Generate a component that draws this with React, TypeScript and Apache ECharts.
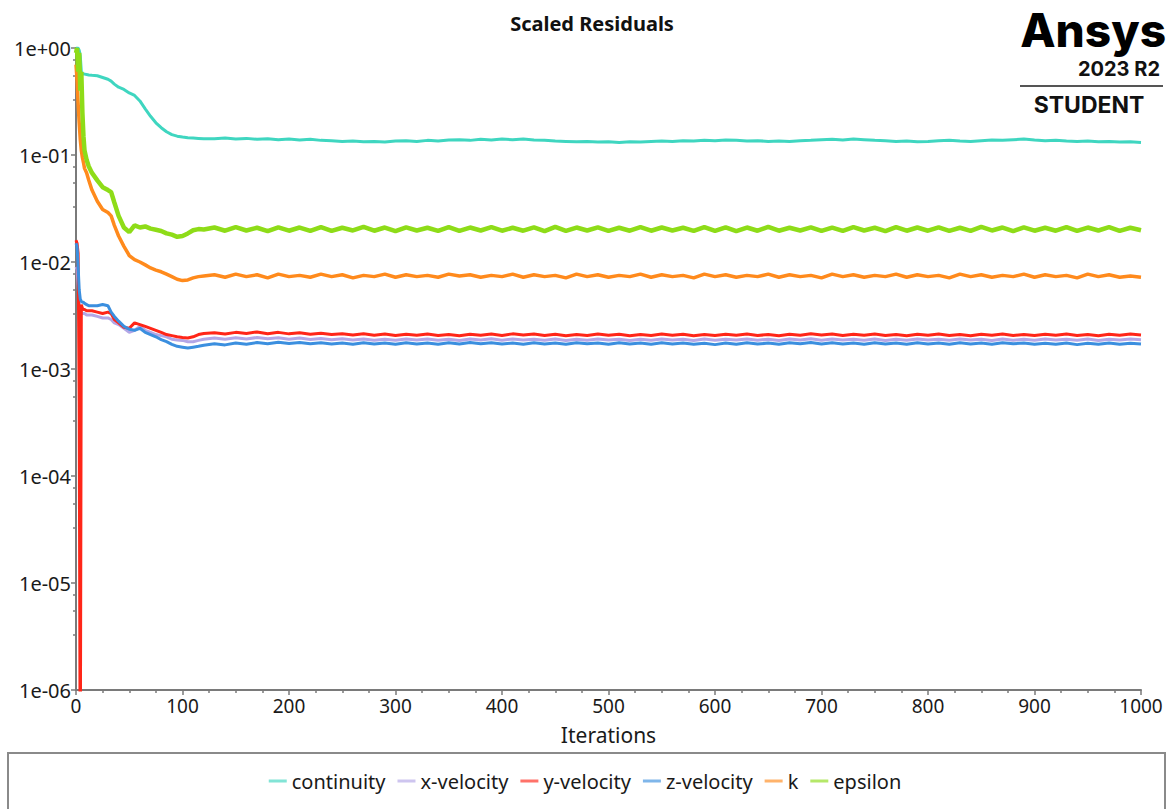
import React, { useEffect, useRef } from "react";
import * as echarts from "echarts";

// ---- data -------------------------------------------------------------
const seriesNames = ["continuity", "x-velocity", "y-velocity", "z-velocity", "k", "epsilon"];
const seriesColors = ["#3fd6c0", "#b3a6e6", "#ff2618", "#3b8fdf", "#ff8a1c", "#8edc18"];

const earlyIterations = [0, 1, 2, 3, 4, 5, 6, 7, 8, 10, 12, 15, 20, 25, 30, 33, 36, 40, 45, 50, 55, 60, 65, 70, 75, 80, 85, 90, 95, 100, 105, 110, 115, 120];
const steadyIterations = Array.from({ length: 88 }, (_, i) => 130 + i * 10);

const continuityEarly = [1.0, 1.0, 1.0, 0.95, 0.85, 0.6, 0.58, 0.57, 0.57, 0.565, 0.56, 0.555, 0.55, 0.53, 0.51, 0.49, 0.46, 0.43, 0.41, 0.38, 0.36, 0.32, 0.27, 0.23, 0.2, 0.18, 0.165, 0.155, 0.15, 0.147, 0.145, 0.144, 0.143, 0.142];
const continuitySteady = [
  0.142, 0.144, 0.141, 0.143, 0.140, 0.142, 0.139, 0.141, 0.138, 0.140,
  0.137, 0.136, 0.134, 0.135, 0.133, 0.134, 0.132, 0.135, 0.136, 0.134,
  0.137, 0.135, 0.138, 0.139, 0.137, 0.140, 0.138, 0.141, 0.139, 0.141,
  0.138, 0.137, 0.135, 0.134, 0.133, 0.134, 0.132, 0.133, 0.131, 0.133,
  0.132, 0.134, 0.135, 0.134, 0.136, 0.135, 0.137, 0.136, 0.138, 0.137,
  0.135, 0.136, 0.134, 0.135, 0.134, 0.136, 0.137, 0.139, 0.140, 0.138,
  0.141, 0.139, 0.137, 0.136, 0.134, 0.135, 0.133, 0.134, 0.136, 0.137,
  0.135, 0.134, 0.136, 0.138, 0.137, 0.139, 0.141, 0.138, 0.136, 0.137,
  0.135, 0.134, 0.135, 0.133, 0.134, 0.132, 0.133, 0.131,
];

const xVelocityEarly = [0.009, 0.0085, 0.006, 0.0042, 0.0036, 0.0034, 0.0033, 0.0033, 0.0033, 0.0032, 0.0032, 0.0032, 0.0031, 0.003, 0.003, 0.0029, 0.0027, 0.0026, 0.0024, 0.0022, 0.0023, 0.0025, 0.0023, 0.0022, 0.0021, 0.00205, 0.002, 0.0019, 0.00187, 0.00185, 0.0018, 0.0018, 0.00185, 0.0019];
const xVelocitySteady = [
  0.00195, 0.0019, 0.00196, 0.00191, 0.00197, 0.00192, 0.00196, 0.0019, 0.00195, 0.00189,
  0.00193, 0.00188, 0.00192, 0.00187, 0.00191, 0.00186, 0.0019, 0.00186, 0.00191, 0.00187,
  0.00191, 0.00186, 0.0019, 0.00185, 0.00191, 0.00187, 0.00192, 0.00186, 0.00191, 0.00187,
  0.0019, 0.00186, 0.00191, 0.00185, 0.0019, 0.00186, 0.00191, 0.00187, 0.0019, 0.00185,
  0.0019, 0.00186, 0.00191, 0.00187, 0.0019, 0.00185, 0.00191, 0.00186, 0.0019, 0.00187,
  0.00191, 0.00186, 0.0019, 0.00185, 0.00191, 0.00187, 0.00192, 0.00186, 0.00191, 0.00187,
  0.0019, 0.00186, 0.00191, 0.00185, 0.0019, 0.00186, 0.00191, 0.00187, 0.0019, 0.00186,
  0.00191, 0.00187, 0.0019, 0.00185, 0.00191, 0.00186, 0.0019, 0.00186, 0.00191, 0.00187,
  0.0019, 0.00186, 0.00191, 0.00185, 0.0019, 0.00187, 0.00191, 0.00188,
];

const yVelocityEarly = [0.016, 0.015, 0.012, 0.0005, 1e-7, 0.004, 0.0037, 0.0036, 0.0036, 0.0035, 0.0035, 0.0035, 0.0034, 0.0033, 0.0034, 0.0033, 0.0029, 0.0027, 0.00245, 0.0024, 0.0027, 0.0026, 0.0025, 0.0024, 0.0023, 0.0022, 0.0021, 0.00205, 0.002, 0.00197, 0.00195, 0.002, 0.0021, 0.00215];
const yVelocitySteady = [
  0.00218, 0.00212, 0.0022, 0.00215, 0.00222, 0.00214, 0.0022, 0.00213, 0.00218, 0.00211,
  0.00216, 0.0021, 0.00214, 0.00208, 0.00213, 0.00207, 0.00212, 0.00206, 0.00211, 0.00207,
  0.00212, 0.00206, 0.0021, 0.00205, 0.00211, 0.00207, 0.00212, 0.00206, 0.00213, 0.00208,
  0.00212, 0.00206, 0.00211, 0.00205, 0.0021, 0.00206, 0.00212, 0.00207, 0.00211, 0.00205,
  0.0021, 0.00206, 0.00212, 0.00207, 0.00211, 0.00205, 0.0021, 0.00206, 0.00211, 0.00207,
  0.00212, 0.00206, 0.0021, 0.00205, 0.00211, 0.00207, 0.00213, 0.00208, 0.00212, 0.00206,
  0.00211, 0.00207, 0.00212, 0.00206, 0.0021, 0.00205, 0.00211, 0.00207, 0.00212, 0.00206,
  0.0021, 0.00205, 0.00211, 0.00207, 0.00212, 0.00206, 0.0021, 0.00206, 0.00211, 0.00207,
  0.00212, 0.00206, 0.0021, 0.00205, 0.00211, 0.00207, 0.00212, 0.00208,
];

const zVelocityEarly = [0.015, 0.014, 0.009, 0.0055, 0.0045, 0.0043, 0.0042, 0.0042, 0.0041, 0.004, 0.0039, 0.0039, 0.0039, 0.004, 0.0039, 0.0034, 0.0031, 0.0028, 0.0025, 0.00235, 0.0023, 0.0024, 0.0022, 0.0021, 0.002, 0.00188, 0.0018, 0.0017, 0.00163, 0.0016, 0.00157, 0.0016, 0.00163, 0.00167];
const zVelocitySteady = [
  0.00172, 0.00168, 0.00175, 0.0017, 0.00177, 0.00172, 0.00178, 0.00173, 0.00177, 0.00172,
  0.00176, 0.00171, 0.00175, 0.0017, 0.00176, 0.00171, 0.00175, 0.0017, 0.00176, 0.00171,
  0.00175, 0.0017, 0.00176, 0.00171, 0.00177, 0.00172, 0.00176, 0.00171, 0.00175, 0.0017,
  0.00176, 0.00171, 0.00175, 0.0017, 0.00176, 0.00172, 0.00175, 0.0017, 0.00176, 0.00171,
  0.00175, 0.0017, 0.00176, 0.00171, 0.00175, 0.0017, 0.00174, 0.00169, 0.00175, 0.0017,
  0.00176, 0.00171, 0.00175, 0.0017, 0.00176, 0.00172, 0.00177, 0.00171, 0.00176, 0.00171,
  0.00175, 0.0017, 0.00176, 0.00171, 0.00175, 0.0017, 0.00176, 0.00171, 0.00175, 0.0017,
  0.00176, 0.00171, 0.00175, 0.0017, 0.00176, 0.00172, 0.00175, 0.0017, 0.00174, 0.0017,
  0.00175, 0.00169, 0.00174, 0.0017, 0.00175, 0.0017, 0.00174, 0.00171,
];

const kEarly = [0.7, 0.5, 0.3, 0.2, 0.14, 0.11, 0.095, 0.085, 0.075, 0.068, 0.058, 0.047, 0.037, 0.031, 0.029, 0.027, 0.022, 0.0175, 0.014, 0.0115, 0.0105, 0.01, 0.0094, 0.0088, 0.0084, 0.0081, 0.0077, 0.0073, 0.0069, 0.0067, 0.0068, 0.0071, 0.0073, 0.0074];
const kSteady = [
  0.0076, 0.0072, 0.0077, 0.0073, 0.0076, 0.0071, 0.0077, 0.0073, 0.0075, 0.0072,
  0.0077, 0.0073, 0.0076, 0.0071, 0.0075, 0.0073, 0.0077, 0.0072, 0.0076, 0.0073,
  0.0075, 0.0072, 0.0077, 0.0074, 0.0076, 0.0072, 0.0075, 0.0073, 0.0077, 0.0072,
  0.0076, 0.0073, 0.0075, 0.0071, 0.0077, 0.0073, 0.0076, 0.0072, 0.0075, 0.0073,
  0.0077, 0.0072, 0.0076, 0.0073, 0.0075, 0.0071, 0.0077, 0.0073, 0.0076, 0.0072,
  0.0075, 0.0073, 0.0077, 0.0072, 0.0076, 0.0073, 0.0075, 0.0071, 0.0077, 0.0073,
  0.0076, 0.0072, 0.0075, 0.0073, 0.0077, 0.0072, 0.0076, 0.0073, 0.0075, 0.0071,
  0.0077, 0.0073, 0.0076, 0.0072, 0.0075, 0.0073, 0.0077, 0.0072, 0.0076, 0.0073,
  0.0075, 0.0071, 0.0077, 0.0073, 0.0076, 0.0072, 0.0074, 0.0072,
];

const epsilonEarly = [0.9, 1.0, 0.6, 0.9, 0.4, 0.6, 0.25, 0.15, 0.11, 0.09, 0.078, 0.068, 0.058, 0.05, 0.047, 0.045, 0.036, 0.027, 0.021, 0.019, 0.022, 0.021, 0.0215, 0.0205, 0.02, 0.0195, 0.0185, 0.018, 0.0172, 0.0175, 0.0185, 0.0198, 0.0203, 0.0201];
const epsilonSteady = [
  0.0210, 0.0196, 0.0212, 0.0197, 0.0209, 0.0194, 0.0211, 0.0196, 0.0210, 0.0195,
  0.0212, 0.0195, 0.0209, 0.0197, 0.0213, 0.0196, 0.0210, 0.0194, 0.0211, 0.0197,
  0.0209, 0.0195, 0.0212, 0.0195, 0.0210, 0.0197, 0.0212, 0.0196, 0.0209, 0.0196,
  0.0211, 0.0194, 0.0213, 0.0195, 0.0210, 0.0197, 0.0211, 0.0195, 0.0209, 0.0196,
  0.0212, 0.0196, 0.0210, 0.0197, 0.0209, 0.0195, 0.0212, 0.0195, 0.0211, 0.0194,
  0.0210, 0.0196, 0.0213, 0.0196, 0.0209, 0.0197, 0.0211, 0.0195, 0.0210, 0.0195,
  0.0212, 0.0197, 0.0209, 0.0194, 0.0212, 0.0196, 0.0210, 0.0196, 0.0211, 0.0195,
  0.0209, 0.0195, 0.0213, 0.0197, 0.0210, 0.0194, 0.0211, 0.0196, 0.0209, 0.0196,
  0.0212, 0.0195, 0.0210, 0.0197, 0.0212, 0.0195, 0.0209, 0.0198,
];

const xTicks = [0, 100, 200, 300, 400, 500, 600, 700, 800, 900, 1000];

const seriesValues = [
  [...continuityEarly, ...continuitySteady],
  [...xVelocityEarly, ...xVelocitySteady],
  [...yVelocityEarly, ...yVelocitySteady],
  [...zVelocityEarly, ...zVelocitySteady],
  [...kEarly, ...kSteady],
  [...epsilonEarly, ...epsilonSteady],
];
const seriesWidths = [3, 3, 3, 3, 3.5, 4.5];

const allIterations = [...earlyIterations, ...steadyIterations];

function fmtExp(v: number) {
  const e = Math.round(Math.log10(v));
  const sign = e < 0 ? "-" : "+";
  return "1e" + sign + String(Math.abs(e)).padStart(2, "0");
}

const FONT = "Noto Sans";

export default function App() {
  const ref = useRef<HTMLDivElement>(null);
  useEffect(() => {
    if (!ref.current) return;
    const chart = echarts.init(ref.current, null, { renderer: "svg" });
    const axisColor = "#7a7a7a";
    chart.setOption({
      animation: false,
      backgroundColor: "#ffffff",
      title: {
        text: "Scaled Residuals",
        left: 587,
        top: 8,
        textAlign: "center",
        textStyle: { fontFamily: FONT, fontWeight: "bold", fontSize: 20, color: "#111" },
      },
      grid: { left: 76, right: 29, top: 48, bottom: 119, containLabel: false },
      legend: {
        data: seriesNames,
        bottom: 13,
        left: "center",
        icon: "rect",
        itemWidth: 18,
        itemHeight: 3,
        itemGap: 12,
        textStyle: { fontFamily: FONT, fontSize: 20, color: "#1a1a1a" },
        itemStyle: { opacity: 0.65 },
      },
      xAxis: {
        type: "value",
        min: 0,
        max: 1000,
        interval: 100,
        name: "Iterations",
        nameLocation: "middle",
        nameGap: 34,
        nameTextStyle: { fontFamily: FONT, fontSize: 21, color: "#1a1a1a" },
        axisLine: { show: true, lineStyle: { color: axisColor, width: 2 } },
        axisTick: { show: true, length: 5, lineStyle: { color: axisColor, width: 1.5 } },
        minorTick: { show: true, splitNumber: 4, length: 3, lineStyle: { color: axisColor, width: 1.5 } },
        splitLine: { show: false },
        axisLabel: {
          fontFamily: FONT,
          fontSize: 19,
          color: "#1a1a1a",
          margin: 6,
          formatter: (v: number) => (xTicks.includes(v) ? String(v) : ""),
        },
      },
      yAxis: {
        type: "log",
        logBase: 10,
        min: 1e-6,
        max: 1,
        splitNumber: 6,
        axisLine: { show: true, lineStyle: { color: axisColor, width: 2 } },
        axisTick: { show: true, length: 5, lineStyle: { color: axisColor, width: 1.5 } },
        minorTick: { show: true, splitNumber: 4, length: 3, lineStyle: { color: axisColor, width: 1.5 } },
        splitLine: { show: false },
        axisLabel: {
          fontFamily: FONT,
          fontSize: 20,
          color: "#1a1a1a",
          margin: 5,
          formatter: (v: number) => fmtExp(v),
        },
      },
      series: seriesNames.map((name, si) => ({
        name,
        type: "line",
        showSymbol: false,
        symbol: "none",
        color: seriesColors[si],
        lineStyle: { width: seriesWidths[si], color: seriesColors[si] },
        data: allIterations.map((it, i) => [it, seriesValues[si][i]]),
        clip: true,
      })),
      graphic: [
        {
          type: "rect",
          shape: { x: 8, y: 753, width: 1157, height: 80 },
          style: { fill: "none", stroke: "#8a8a8a", lineWidth: 2 },
          silent: true,
        },
        {
          type: "text",
          x: 1166,
          y: 7,
          style: {
            text: "Ansys",
            fontFamily: "Inter",
            fontWeight: 800,
            fontSize: 46,
            lineHeight: 46,
            fill: "#000",
            textAlign: "right",
            textVerticalAlign: "top",
          },
        },
        {
          type: "text",
          x: 1160,
          y: 58,
          style: {
            text: "2023 R2",
            fontFamily: "Inter",
            fontWeight: "bold",
            fontSize: 20,
            lineHeight: 22,
            fill: "#111",
            textAlign: "right",
            textVerticalAlign: "top",
          },
        },
        {
          type: "line",
          shape: { x1: 1020, y1: 86, x2: 1163, y2: 86 },
          style: { stroke: "#555", lineWidth: 2 },
        },
        {
          type: "text",
          x: 1089,
          y: 93,
          style: {
            text: "STUDENT",
            fontFamily: "Inter",
            fontWeight: "bold",
            fontSize: 23,
            fill: "#111",
            textAlign: "center",
            textVerticalAlign: "top",
          },
        },
      ],
    });
    return () => chart.dispose();
  }, []);
  return <div ref={ref} style={{ position: "fixed", left: 0, top: 0, width: 1170, height: 809 }} />;
}
